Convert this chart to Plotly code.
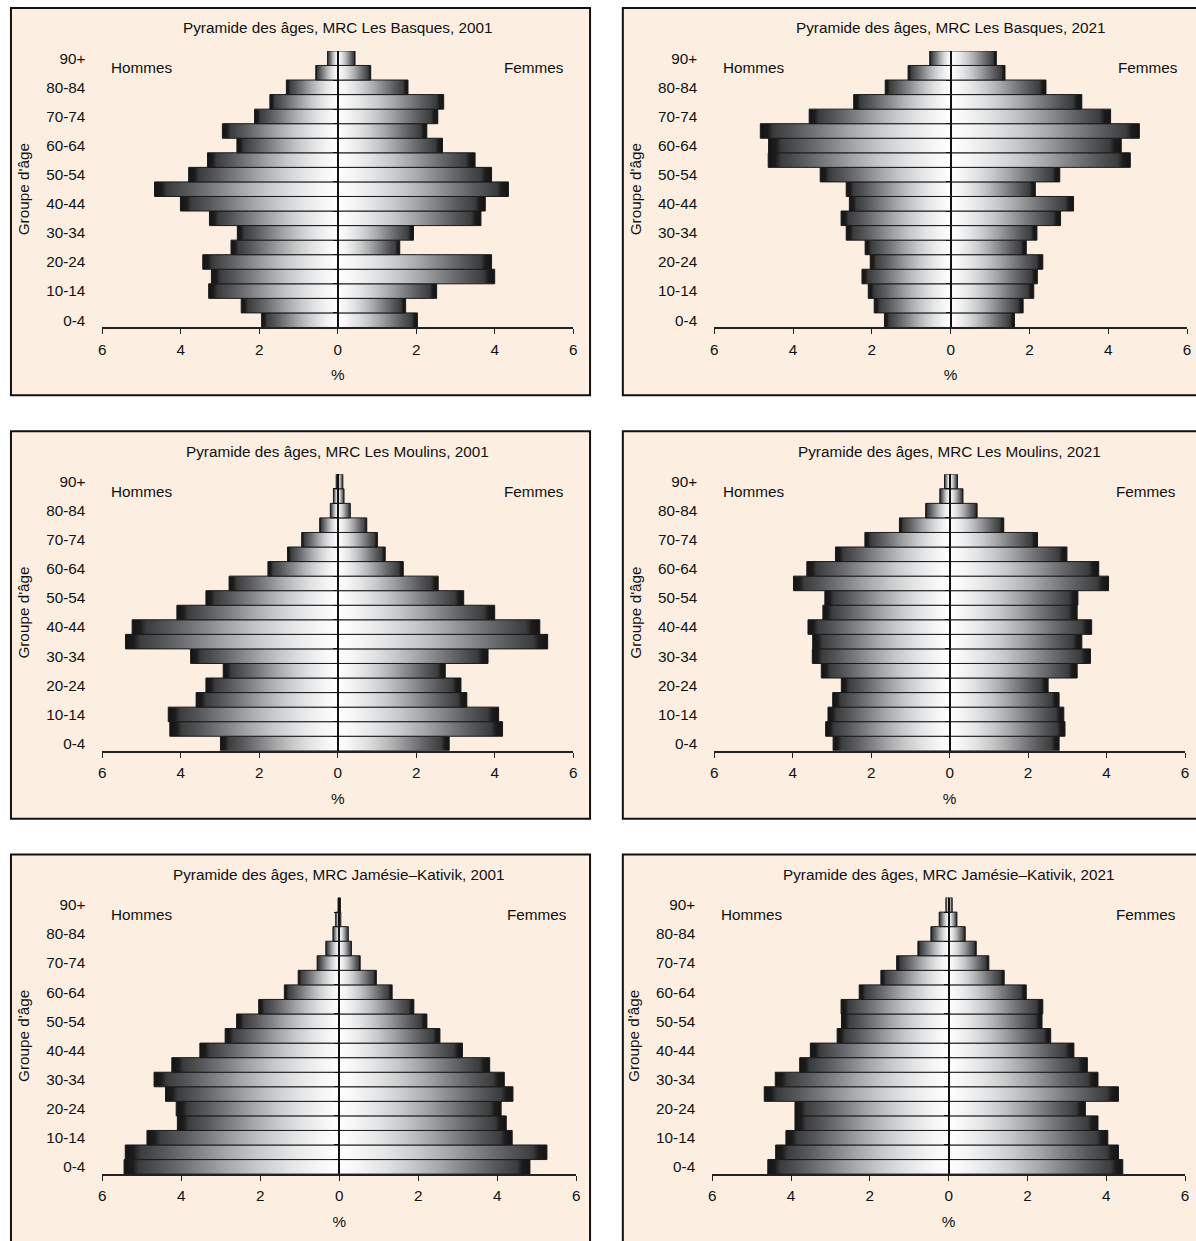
import plotly.graph_objects as go

# ---------------- data ----------------
ages = ["0-4", "5-9", "10-14", "15-19", "20-24", "25-29", "30-34", "35-39", "40-44",
        "45-49", "50-54", "55-59", "60-64", "65-69", "70-74", "75-79", "80-84", "85-89", "90+"]
y_tick_labels = ["0-4", "10-14", "20-24", "30-34", "40-44", "50-54", "60-64", "70-74", "80-84", "90+"]
x_tick_values = [-6, -4, -2, 0, 2, 4, 6]
x_tick_text = ["6", "4", "2", "0", "2", "4", "6"]

titles = [
    "Pyramide des âges, MRC Les Basques, 2001",
    "Pyramide des âges, MRC Les Basques, 2021",
    "Pyramide des âges, MRC Les Moulins, 2001",
    "Pyramide des âges, MRC Les Moulins, 2021",
    "Pyramide des âges, MRC Jamésie–Kativik, 2001",
    "Pyramide des âges, MRC Jamésie–Kativik, 2021",
]

# % of population, from 0-4 (first) to 90+ (last)
basques_2001_hommes = [1.94, 2.46, 3.29, 3.22, 3.44, 2.72, 2.56, 3.27, 4.01, 4.67, 3.80, 3.32, 2.57, 2.94, 2.12, 1.73, 1.31, 0.56, 0.26]
basques_2001_femmes = [2.03, 1.73, 2.52, 4.00, 3.92, 1.58, 1.93, 3.65, 3.76, 4.35, 3.92, 3.50, 2.67, 2.27, 2.55, 2.70, 1.79, 0.84, 0.44]
basques_2021_hommes = [1.68, 1.94, 2.09, 2.25, 2.04, 2.17, 2.65, 2.78, 2.57, 2.65, 3.31, 4.63, 4.62, 4.83, 3.59, 2.46, 1.66, 1.08, 0.53]
basques_2021_femmes = [1.62, 1.84, 2.11, 2.20, 2.34, 1.92, 2.19, 2.79, 3.12, 2.15, 2.77, 4.56, 4.33, 4.79, 4.06, 3.33, 2.42, 1.38, 1.16]
moulins_2001_hommes = [2.99, 4.28, 4.32, 3.61, 3.36, 2.92, 3.75, 5.41, 5.24, 4.10, 3.36, 2.77, 1.78, 1.28, 0.92, 0.46, 0.19, 0.11, 0.04]
moulins_2001_femmes = [2.84, 4.20, 4.10, 3.29, 3.14, 2.74, 3.83, 5.35, 5.15, 4.00, 3.21, 2.56, 1.67, 1.21, 1.01, 0.74, 0.32, 0.16, 0.13]
moulins_2021_hommes = [2.97, 3.16, 3.10, 2.98, 2.76, 3.27, 3.50, 3.49, 3.61, 3.23, 3.18, 3.98, 3.64, 2.91, 2.16, 1.28, 0.61, 0.25, 0.13]
moulins_2021_femmes = [2.79, 2.94, 2.91, 2.79, 2.51, 3.25, 3.59, 3.37, 3.62, 3.25, 3.27, 4.05, 3.80, 2.99, 2.24, 1.38, 0.70, 0.34, 0.20]
jamesie_2001_hommes = [5.45, 5.42, 4.87, 4.10, 4.13, 4.40, 4.69, 4.24, 3.53, 2.89, 2.60, 2.04, 1.39, 1.04, 0.56, 0.34, 0.16, 0.09, 0.03]
jamesie_2001_femmes = [4.83, 5.26, 4.38, 4.23, 4.10, 4.40, 4.18, 3.81, 3.12, 2.55, 2.22, 1.89, 1.34, 0.94, 0.53, 0.31, 0.23, 0.04, 0.03]
jamesie_2021_hommes = [4.59, 4.39, 4.13, 3.90, 3.90, 4.68, 4.40, 3.78, 3.51, 2.83, 2.72, 2.73, 2.27, 1.72, 1.32, 0.78, 0.45, 0.24, 0.07]
jamesie_2021_femmes = [4.42, 4.31, 4.04, 3.79, 3.47, 4.31, 3.79, 3.52, 3.18, 2.59, 2.37, 2.39, 1.97, 1.41, 1.02, 0.70, 0.42, 0.21, 0.09]

hommes_series = [basques_2001_hommes, basques_2021_hommes, moulins_2001_hommes,
                 moulins_2021_hommes, jamesie_2001_hommes, jamesie_2021_hommes]
femmes_series = [basques_2001_femmes, basques_2021_femmes, moulins_2001_femmes,
                 moulins_2021_femmes, jamesie_2001_femmes, jamesie_2021_femmes]

# ---------------- layout geometry (pixels) ----------------
W, H = 1196, 1241
FONT = "Liberation Sans, Arial, Helvetica, sans-serif"
BEIGE = "#FCEFE2"
TXT = "#111111"
FS = 15.3

# plot-area x extents per panel, plot-area y extents per row
plot_x = [(99, 573), (715, 1191), (99, 573), (715, 1189), (99, 576), (713, 1189)]
plot_y = [(50, 327), (474, 751), (898, 1175)]
box_x = [(7, 590), (623, 1206)]
box_y = [(7, 395), (431, 819), (855, 1243)]

def px(v):
    return v / W

def py(v):
    return (H - v) / H

male_cs = [[0, "#141414"], [0.04, "#1c1c1c"], [0.07, "#3b3c3d"], [0.18, "#55575a"],
           [0.32, "#7b7d80"], [0.47, "#a4a6a8"], [0.62, "#c8c9cb"], [0.77, "#e3e4e5"],
           [0.9, "#f5f5f6"], [1, "#ffffff"]]
female_cs = [[round(1 - p, 4), c] for p, c in reversed(male_cs)]

fig = go.Figure()
layout = {}
annotations = []
shapes = []

for p in range(6):
    row, col = p // 2, p % 2
    xid = "x" if p == 0 else f"x{p + 1}"
    ym = 2 * p + 1
    yo = 2 * p + 2
    ymid = "y" if ym == 1 else f"y{ym}"
    yoid = f"y{yo}"
    xname = "xaxis" if p == 0 else f"xaxis{p + 1}"
    ymname = "yaxis" if ym == 1 else f"yaxis{ym}"
    yoname = f"yaxis{yo}"

    x0, x1 = plot_x[p]
    yt, yb = plot_y[row]
    xdom = [px(x0), px(x1)]
    ydom = [py(yb), py(yt)]

    # bars: men on the main y axis (left), women on the overlay y axis
    for i, v in enumerate(hommes_series[p]):
        fig.add_trace(go.Scatter(
            x=[0, -v, -v, 0, 0], y=[i - 0.5, i - 0.5, i + 0.5, i + 0.5, i - 0.5],
            mode="lines", fill="toself", fillcolor="#8a8a8a",
            fillgradient=dict(type="horizontal", colorscale=male_cs),
            line=dict(color="#1a1a1a", width=1),
            xaxis=xid, yaxis=ymid, showlegend=False, hoverinfo="skip"))
    for i, v in enumerate(femmes_series[p]):
        fig.add_trace(go.Scatter(
            x=[0, v, v, 0, 0], y=[i - 0.5, i - 0.5, i + 0.5, i + 0.5, i - 0.5],
            mode="lines", fill="toself", fillcolor="#8a8a8a",
            fillgradient=dict(type="horizontal", colorscale=female_cs),
            line=dict(color="#1a1a1a", width=1),
            xaxis=xid, yaxis=yoid, showlegend=False, hoverinfo="skip"))

    layout[xname] = dict(
        domain=xdom, anchor=ymid, range=[-6, 6], tickmode="array",
        tickvals=x_tick_values, ticktext=x_tick_text, ticks="outside", ticklen=5,
        tickcolor="#222", showline=True, linecolor="#222", linewidth=1.5,
        ticklabelstandoff=2,
        showgrid=False, zeroline=False, tickfont=dict(size=FS, color=TXT, family=FONT),
        title=dict(text="%", font=dict(size=FS, color=TXT, family=FONT), standoff=13),
        fixedrange=True)
    layout[ymname] = dict(
        domain=ydom, anchor=xid, range=[-0.5, 18.5], tickmode="array",
        tickvals=list(range(0, 19, 2)), ticktext=y_tick_labels, ticks="",
        ticklabelstandoff=16, showline=False, showgrid=False, zeroline=False,
        tickfont=dict(size=FS, color=TXT, family=FONT),
        title=dict(text="Groupe d'âge", font=dict(size=FS, color=TXT, family=FONT), standoff=12),
        fixedrange=True)
    layout[yoname] = dict(
        overlaying=ymid, anchor="free", position=(xdom[0] + xdom[1]) / 2, side="left",
        range=[-0.5, 18.5], tickmode="array", tickvals=[k + 0.5 for k in range(18)],
        ticks="outside", ticklen=4, tickcolor="#111", showticklabels=False,
        showline=True, linecolor="#111", linewidth=1.5, showgrid=False, zeroline=False,
        layer="above traces", fixedrange=True)

    # plot-area border
    shapes.append(dict(type="rect", xref=f"{xid} domain", yref=f"{ymid} domain",
                       x0=0, x1=1, y0=0, y1=1, line=dict(color="#7a7a7a", width=1),
                       layer="below"))
    # panel box
    bx0, bx1 = box_x[col]
    by0, by1 = box_y[row]
    shapes.append(dict(type="rect", xref="paper", yref="paper",
                       x0=px(bx0), x1=px(bx1), y0=py(by1), y1=py(by0),
                       line=dict(color="#111111", width=2), fillcolor=BEIGE, layer="below"))

    ph = yb - yt
    pw = x1 - x0
    annotations.append(dict(text=titles[p], xref=f"{xid} domain", yref=f"{ymid} domain",
                            x=0.5, y=1 + 23 / ph, xanchor="center", yanchor="middle",
                            showarrow=False, font=dict(size=FS, color=TXT, family=FONT)))
    annotations.append(dict(text="Hommes", xref=f"{xid} domain", yref=f"{ymid} domain",
                            x=7 / pw, y=1 - 17 / ph, xanchor="left", yanchor="middle",
                            showarrow=False, font=dict(size=FS, color=TXT, family=FONT)))
    annotations.append(dict(text="Femmes", xref=f"{xid} domain", yref=f"{ymid} domain",
                            x=1 - 7 / pw, y=1 - 17 / ph, xanchor="right", yanchor="middle",
                            showarrow=False, font=dict(size=FS, color=TXT, family=FONT)))

fig.update_layout(
    width=W, height=H, margin=dict(l=0, r=0, t=0, b=0),
    paper_bgcolor="white", plot_bgcolor=BEIGE,
    font=dict(family=FONT, size=FS, color=TXT),
    shapes=shapes, annotations=annotations, showlegend=False,
    **layout)

# remove the browser's default 8px body margin so the figure fills the window
fig.write_html("out.html", config={"displayModeBar": False},
               post_script="document.body.style.margin='0';document.body.style.overflow='hidden';")
